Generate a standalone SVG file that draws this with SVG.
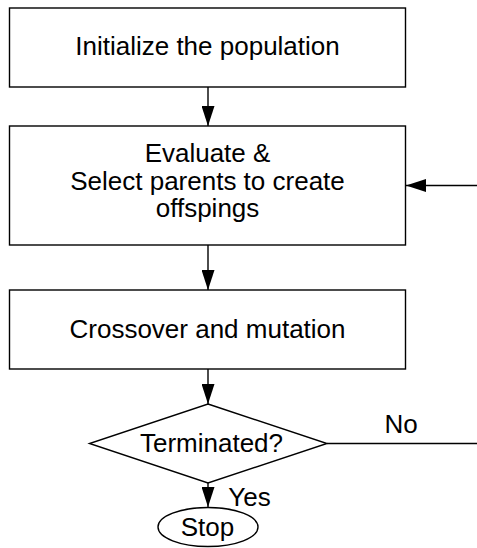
<svg xmlns="http://www.w3.org/2000/svg" width="477" height="548" viewBox="0 0 477 548">
<style>
.box{fill:#fff;stroke:#000;stroke-width:1.4}
.ln{fill:none;stroke:#000;stroke-width:1.4}
.t{font-family:"Liberation Sans",Arial,sans-serif;font-size:26px;fill:#000;text-anchor:middle}
</style>
<defs>
<marker id="ah" viewBox="0 0 20 13" refX="20" refY="6.5" markerWidth="20" markerHeight="13" markerUnits="userSpaceOnUse" orient="auto">
<path d="M0,0 L20,6.5 L0,13 Z" fill="#000"/>
</marker>
</defs>
<g id="connectors">
<line class="ln" x1="208" y1="87" x2="208" y2="126" marker-end="url(#ah)"/>
<line class="ln" x1="208" y1="245" x2="208" y2="290" marker-end="url(#ah)"/>
<line class="ln" x1="208" y1="369" x2="208" y2="404" marker-end="url(#ah)"/>
<line class="ln" x1="208" y1="483" x2="208" y2="507" marker-end="url(#ah)"/>
<line class="ln" x1="327" y1="443.5" x2="477" y2="443.5"/>
<line class="ln" x1="477" y1="185.5" x2="406" y2="185.5" marker-end="url(#ah)"/>
<text class="t" x="401" y="433">No</text>
<text class="t" x="249.5" y="506">Yes</text>
</g>
<g id="init">
<rect class="box" x="9.5" y="8" width="396" height="79"/>
<text class="t" x="207.5" y="55">Initialize the population</text>
</g>
<g id="evaluate">
<rect class="box" x="9.5" y="126" width="396" height="119"/>
<text class="t" x="207.5" y="162">Evaluate &amp;</text>
<text class="t" x="207.5" y="190">Select parents to create</text>
<text class="t" x="207.5" y="217">offspings</text>
</g>
<g id="crossover">
<rect class="box" x="9.5" y="290" width="396" height="79"/>
<text class="t" x="207.5" y="338">Crossover and mutation</text>
</g>
<g id="terminated">
<polygon class="box" points="208,404 327,443.5 208,483 89.5,443.5"/>
<text class="t" x="211.5" y="451.5">Terminated?</text>
</g>
<g id="stop">
<ellipse class="box" cx="208" cy="527" rx="50" ry="19.5"/>
<text class="t" x="207.5" y="536">Stop</text>
</g>
</svg>
